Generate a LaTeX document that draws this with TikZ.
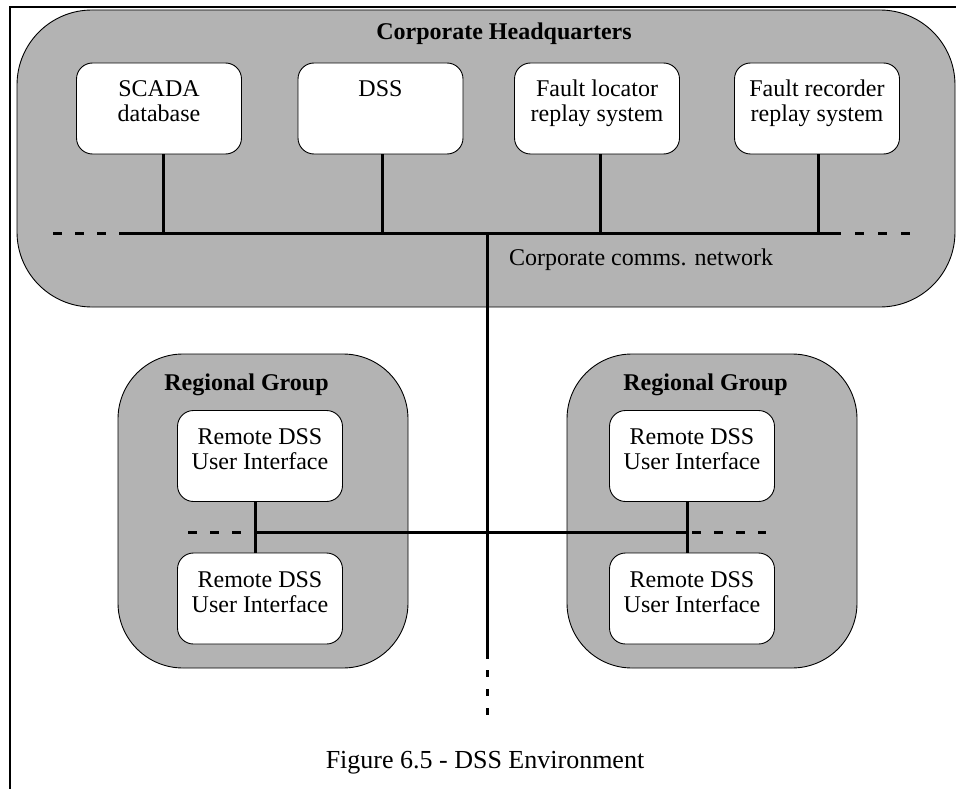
\documentclass[tikz,border=0pt]{standalone}
\usepackage{fontspec}
\setmainfont{Liberation Serif}
\definecolor{sitegray}{RGB}{179,179,179}
% fixed-size box with the label lines hanging from the top
\newcommand\unittext[1]{\parbox[c][91pt][t]{165pt}{\centering\vspace*{16.5pt}\strut#1}}
\begin{document}
\begin{tikzpicture}[x=1pt,y=-1pt,
  every node/.style={inner sep=0pt, font=\fontsize{24}{25}\selectfont},
  site/.style={draw=black, line width=0.9pt, fill=sitegray, rectangle},
  unit/.style={draw=black, line width=0.9pt, fill=white, rectangle,
    rounded corners=16pt, inner sep=0pt},
  title/.style={font=\fontsize{24}{25}\selectfont\bfseries, anchor=base},
  link/.style={line width=3pt},
  linkdash/.style={line width=3pt, dash pattern=on 8.5pt off 13.5pt},
]
\useasboundingbox (0,0) rectangle (956,789);

% page frame
\coordinate (frTR) at (956,7);
\coordinate (frTL) at (10,7);
\coordinate (frBL) at (10,789);
\draw[line width=2pt] (frTR) -- (frTL) -- (frBL);

% sites
\node[site, rounded corners=75pt, minimum width=938pt, minimum height=297pt] (hq) at (486,158.5) {};
\node[site, rounded corners=65pt, minimum width=290pt, minimum height=314pt] (rgA) at (263,511) {};
\node[site, rounded corners=65pt, minimum width=290pt, minimum height=314pt] (rgB) at (712,511) {};

\node[title] (hqtitle) at (504,40) {Corporate Headquarters};
\node[title] (rgAtitle) at (246.5,390) {Regional Group};
\node[title] (rgBtitle) at (705.5,390) {Regional Group};

% headquarters systems
\node[unit] (scada) at (159,108.5) {\unittext{SCADA\\database}};
\node[unit] (dss)   at (380.5,108.5) {\unittext{DSS}};
\node[unit] (floc)  at (597,108.5) {\unittext{Fault locator\\replay system}};
\node[unit] (frec)  at (817,108.5) {\unittext{Fault recorder\\replay system}};

% regional user interfaces
\node[unit] (rA1) at (260,456) {\unittext{Remote DSS\\User Interface}};
\node[unit] (rA2) at (260,598.5) {\unittext{Remote DSS\\User Interface}};
\node[unit] (rB1) at (692,456) {\unittext{Remote DSS\\User Interface}};
\node[unit] (rB2) at (692,598.5) {\unittext{Remote DSS\\User Interface}};

% corporate bus
\coordinate (busL) at (53,233);
\coordinate (busA) at (127,233);
\coordinate (busB) at (836,233);
\coordinate (busR) at (910,233);
\coordinate (tap1) at (163,233);
\coordinate (tap2) at (382,233);
\coordinate (tap3) at (600,233);
\coordinate (tap4) at (818,233);
\coordinate (trunktop) at (487,233);
\coordinate (trunkmid) at (487,659);
\coordinate (trunkend) at (487,716);

\draw[link] (busA) -- (busB);
\draw[linkdash] (busL) -- (busA);
\draw[line width=3pt, dash pattern=on 9pt off 14pt, dash phase=4pt] (busB) -- (busR);
\draw[link] (scada.south -| tap1) -- (tap1);
\draw[link] (dss.south -| tap2) -- (tap2);
\draw[link] (floc.south -| tap3) -- (tap3);
\draw[link] (frec.south -| tap4) -- (tap4);

\node[anchor=base west] (netlabel) at (509,265) {Corporate comms. network};

% trunk to the regions
\draw[link] (trunktop) -- (trunkmid);
\draw[line width=3pt, dash pattern=on 7pt off 12pt, dash phase=8pt] (trunkmid) -- (trunkend);

% regional link
\coordinate (xl) at (255,532);
\coordinate (xr) at (687,532);
\coordinate (xdl) at (188,532);
\coordinate (xdr) at (766,532);
\draw[link] (xl) -- (xr);
\draw[linkdash] (xdl) -- (xl);
\draw[linkdash, dash phase=17pt] (xr) -- (xdr);
\draw[link] (rA1.south -| xl) -- (rA2.north -| xl);
\draw[link] (rB1.south -| xr) -- (rB2.north -| xr);

% caption
\node[anchor=base, font=\fontsize{26}{28}\selectfont] (caption) at (485,768) {Figure 6.5 - DSS Environment};
\end{tikzpicture}
\end{document}
